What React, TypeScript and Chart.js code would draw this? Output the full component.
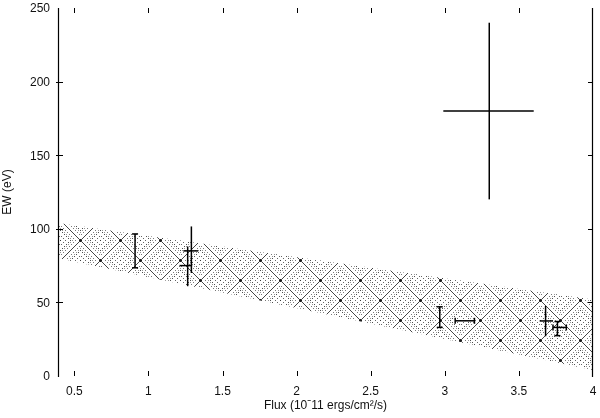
import React, { useEffect, useRef } from "react";
import { Chart, registerables } from "chart.js";
Chart.register(...registerables);

// Model band (hatched confidence region)
const bandFlux = [0.39, 4];
const bandUpper = [104, 52];
const bandLower = [80, 4];

// Measurements with asymmetric error bars
const pointFlux = [0.91, 1.265, 1.29, 3.3, 2.966, 3.135, 3.68, 3.76];
const pointEW = [85, 75, 85, 180, 40, 37.5, 37.4, 33];
const fluxErrLo = [0, 0.055, 0.054, 0.31, 0, 0.065, 0.04, 0.03];
const fluxErrHi = [0, 0.03, 0.046, 0.3, 0, 0.065, 0.05, 0.06];
const ewErrLo = [11.5, 14, 15, 60, 7, 0, 10.4, 5.6];
const ewErrHi = [11.5, 13, 16.6, 60, 7, 0, 10.2, 4];
const capped = [true, false, false, false, true, true, false, true];

const xTickValues = [0.5, 1, 1.5, 2, 2.5, 3, 3.5, 4];
const xTickLabels = ["0.5", "1", "1.5", "2", "2.5", "3", "3.5", "4"];
const yTickValues = [0, 50, 100, 150, 200, 250];
const yTickLabels = ["0", "50", "100", "150", "200", "250"];

const xTitle = "Flux (10\u02C911 ergs/cm\u00B2/s)";
const yTitle = "EW (eV)";

const FONT = "12px 'Liberation Sans', Arial, sans-serif";

function makePattern(ctx: CanvasRenderingContext2D) {
  const P = 40;
  const h = P / 2;
  const c = document.createElement("canvas");
  c.width = P;
  c.height = P;
  const g = c.getContext("2d")!;
  const img = g.createImageData(P, P);
  for (let y = 0; y < P; y++) {
    for (let x = 0; x < P; x++) {
      let v = 255;
      let a = 0;
      const d1 = (((x - y) % P) + P) % P;
      const d2 = (x + y) % P;
      const ring = Math.max(Math.abs(d1 - h), Math.abs(d2 - h));
      const nearCross = Math.min(d1, P - d1) <= 1 && Math.min(d2, P - d2) <= 1;
      if (nearCross) {
        v = 30;
        a = 255;
      } else if (d1 === 0 || d2 === 0) {
        v = 70;
        a = 255;
      } else if (ring === 10 && x % 2 === 0) {
        v = 80;
        a = 255;
      } else if (ring === 5 && x % 2 === 1) {
        v = 100;
        a = 255;
      } else if (ring === 15 && x % 2 === 1) {
        v = 120;
        a = 255;
      } else if ((ring === 12 || ring === 17 || ring === 7) && (x + y) % 4 === 0 && x % 2 === 0) {
        v = 150;
        a = 255;
      } else if (ring === 0) {
        v = 60;
        a = 255;
      }
      const i = (y * P + x) * 4;
      img.data[i] = v;
      img.data[i + 1] = v;
      img.data[i + 2] = v;
      img.data[i + 3] = a;
    }
  }
  g.putImageData(img, 0, 0);
  return ctx.createPattern(c, "repeat")!;
}

const decor = {
  id: "decor",
  afterDraw(chart: any) {
    const { ctx, chartArea: a, scales } = chart;
    const xs = scales.x;
    const ys = scales.y;
    const seg = (x1: number, y1: number, x2: number, y2: number) => {
      ctx.beginPath();
      ctx.moveTo(x1, y1);
      ctx.lineTo(x2, y2);
      ctx.stroke();
    };
    ctx.save();
    ctx.strokeStyle = "#000";
    ctx.lineWidth = 1.2;
    // axis lines
    seg(a.left + 0.5, a.top, a.left + 0.5, a.bottom + 1);
    seg(a.right - 0.5, a.top, a.right - 0.5, a.bottom + 1);
    ctx.lineWidth = 1;
    // y ticks
    yTickValues.forEach((v) => {
      if (v === 0 || v === 250) return;
      const py = Math.round(ys.getPixelForValue(v)) + 0.5;
      seg(a.left - 2, py, a.left + 5, py);
      seg(a.right - 5, py, a.right, py);
    });
    // x ticks
    xTickValues.forEach((v) => {
      if (v === 4) return;
      const px = Math.round(xs.getPixelForValue(v)) + 0.5;
      seg(px, a.bottom - 5, px, a.bottom);
      seg(px, a.top, px, a.top + 5);
    });
    // error bars
    ctx.lineWidth = 1.5;
    for (let i = 0; i < pointFlux.length; i++) {
      const cx = xs.getPixelForValue(pointFlux[i]);
      const cy = ys.getPixelForValue(pointEW[i]);
      if (ewErrLo[i] > 0 || ewErrHi[i] > 0) {
        const y1 = ys.getPixelForValue(pointEW[i] + ewErrHi[i]);
        const y2 = ys.getPixelForValue(pointEW[i] - ewErrLo[i]);
        seg(cx, y1, cx, y2);
        if (capped[i]) {
          seg(cx - 3, y1, cx + 3, y1);
          seg(cx - 3, y2, cx + 3, y2);
        }
      }
      if (fluxErrLo[i] > 0 || fluxErrHi[i] > 0) {
        const x1 = xs.getPixelForValue(pointFlux[i] - fluxErrLo[i]);
        const x2 = xs.getPixelForValue(pointFlux[i] + fluxErrHi[i]);
        seg(x1, cy, x2, cy);
        if (capped[i]) {
          seg(x1, cy - 3, x1, cy + 3);
          seg(x2, cy - 3, x2, cy + 3);
        }
      }
    }
    // tick labels
    ctx.fillStyle = "#111";
    ctx.font = FONT;
    ctx.textBaseline = "middle";
    ctx.textAlign = "right";
    yTickValues.forEach((v, i) => {
      ctx.fillText(yTickLabels[i], a.left - 8, ys.getPixelForValue(v) + 1);
    });
    ctx.textAlign = "center";
    xTickValues.forEach((v, i) => {
      ctx.fillText(xTickLabels[i], xs.getPixelForValue(v), 392);
    });
    // titles
    ctx.fillText(xTitle, (a.left + a.right) / 2, 406);
    ctx.translate(8, (a.top + a.bottom) / 2);
    ctx.rotate(-Math.PI / 2);
    ctx.fillText(yTitle, 0, 0);
    ctx.restore();
  },
};

export default function App() {
  const ref = useRef<HTMLCanvasElement>(null);
  useEffect(() => {
    const canvas = ref.current!;
    const ctx = canvas.getContext("2d")!;
    const pattern = makePattern(ctx);
    const chart = new Chart(ctx, {
      type: "scatter",
      data: {
        datasets: [
          {
            type: "line",
            data: bandFlux.map((f, i) => ({ x: f, y: bandUpper[i] })),
            borderWidth: 0,
            pointRadius: 0,
            backgroundColor: pattern as any,
            fill: "+1",
          },
          {
            type: "line",
            data: bandFlux.map((f, i) => ({ x: f, y: bandLower[i] })),
            borderWidth: 0,
            pointRadius: 0,
            fill: false,
          },
          {
            type: "scatter",
            data: pointFlux.map((f, i) => ({ x: f, y: pointEW[i] })),
            pointRadius: 0,
          },
        ],
      },
      options: {
        animation: false,
        responsive: false,
        events: [],
        layout: { padding: { left: 0, top: 8, right: 7, bottom: 0 } },
        plugins: { legend: { display: false }, tooltip: { enabled: false } },
        scales: {
          x: {
            type: "linear",
            min: 0.39,
            max: 4,
            grid: { display: false, drawTicks: false },
            border: { display: false },
            ticks: { display: false },
            afterFit: (s: any) => {
              s.height = 42;
            },
          },
          y: {
            type: "linear",
            min: 0,
            max: 250,
            grid: { display: false, drawTicks: false },
            border: { display: false },
            ticks: { display: false },
            afterFit: (s: any) => {
              s.width = 58;
            },
          },
        },
      },
      plugins: [decor],
    });
    return () => chart.destroy();
  }, []);
  return (
    <div style={{ position: "absolute", left: 0, top: 0, width: 600, height: 418, background: "#fff" }}>
      <canvas ref={ref} width={600} height={418} style={{ display: "block" }} />
    </div>
  );
}
